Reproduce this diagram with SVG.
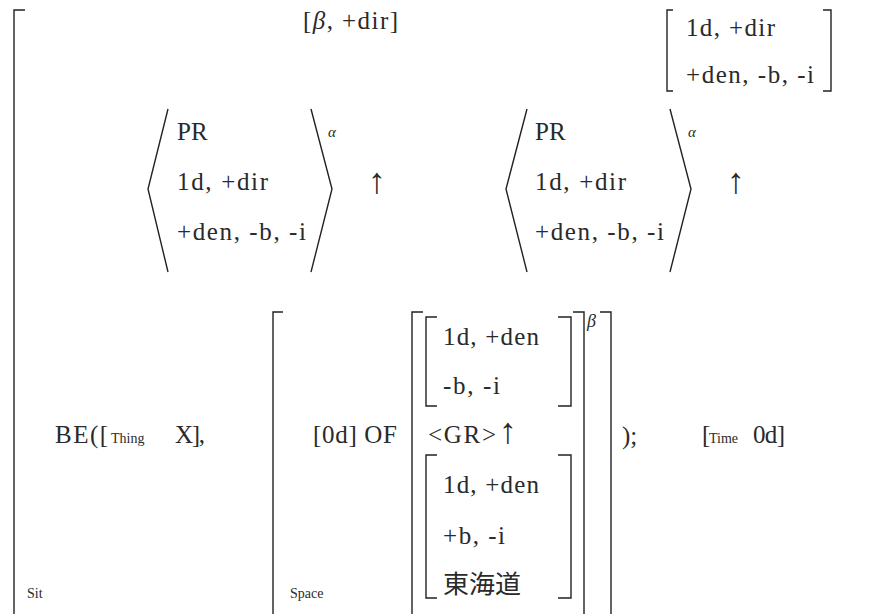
<svg xmlns="http://www.w3.org/2000/svg" width="873" height="614" viewBox="0 0 873 614">
  <style>
    .t { font-family: "Liberation Serif", "Noto Sans CJK JP", serif; font-size: 25px; fill: #2a2a2a; }
    .s { font-family: "Liberation Serif", serif; font-size: 14px; fill: #2a2a2a; }
    .g { font-family: "Liberation Serif", serif; font-style: italic; fill: #2a2a2a; }
    .k { font-family: "Noto Sans CJK JP", sans-serif; font-size: 25px; fill: #2a2a2a; }
    .up { font-family: "Liberation Serif", serif; font-size: 36px; fill: #2a2a2a; }
    .br { fill: none; stroke: #222; stroke-width: 1.4; }
  </style>
  <rect width="873" height="614" fill="#ffffff"/>

  <!-- bracket and angle-bracket strokes -->
  <g id="brackets" class="br">
    <!-- outer Sit bracket -->
    <path d="M25,10 H14 V614"/>
    <!-- top-right feature bracket -->
    <path d="M673,10 H667 V91 H673"/>
    <path d="M823,10 H831 V91 H823"/>
    <!-- first angle pair -->
    <path d="M168,109 L148,189 L168,272"/>
    <path d="M311,109 L332,189 L311,272"/>
    <!-- second angle pair -->
    <path d="M527,109 L506,189 L527,272"/>
    <path d="M670,109 L691,189 L670,272"/>
    <!-- Space bracket -->
    <path d="M283,312 H273 V614"/>
    <path d="M600,312 H611 V614"/>
    <!-- beta bracket -->
    <path d="M423,312 H412 V614"/>
    <path d="M573,312 H584 V614"/>
    <!-- inner upper bracket -->
    <path d="M437,317 H426 V406 H437"/>
    <path d="M558,317 H571 V406 H558"/>
    <!-- inner lower bracket -->
    <path d="M437,455 H426 V598 H437"/>
    <path d="M558,455 H571 V598 H558"/>
  </g>

  <g id="top-label">
    <text class="t" x="303" y="29" textLength="95" lengthAdjust="spacing">[<tspan class="g">β</tspan>, +dir]</text>
  </g>

  <g id="top-right-features">
    <text class="t" x="686" y="36" textLength="89" lengthAdjust="spacing">1d, +dir</text>
    <text class="t" x="686" y="83" textLength="128" lengthAdjust="spacing">+den, -b, -i</text>
  </g>

  <g id="angle-1">
    <text class="t" x="177" y="140" font-size="27">PR</text>
    <text class="t" x="177" y="190" textLength="91" lengthAdjust="spacing">1d, +dir</text>
    <text class="t" x="177" y="240" textLength="129" lengthAdjust="spacing">+den, -b, -i</text>
    <text class="g" x="328" y="137" font-size="15">α</text>
    <text class="up" x="368" y="193">↑</text>
  </g>

  <g id="angle-2">
    <text class="t" x="535" y="140" font-size="27">PR</text>
    <text class="t" x="535" y="190" textLength="91" lengthAdjust="spacing">1d, +dir</text>
    <text class="t" x="535" y="240" textLength="129" lengthAdjust="spacing">+den, -b, -i</text>
    <text class="g" x="688" y="137" font-size="15">α</text>
    <text class="up" x="727" y="193">↑</text>
  </g>

  <g id="situation">
    <text class="t" x="55" y="443" textLength="53" lengthAdjust="spacing">BE([</text>
    <text class="s" x="111" y="443">Thing</text>
    <text class="t" x="175" y="443" textLength="30" lengthAdjust="spacing">X],</text>
    <text class="s" x="27" y="598" font-size="12">Sit</text>
  </g>

  <g id="space">
    <text class="t" x="313" y="443" textLength="84" lengthAdjust="spacing">[0d] OF</text>
    <text class="s" x="290" y="598" font-size="11">Space</text>
    <text class="g" x="587" y="327" font-size="18">β</text>
  </g>

  <g id="inner-upper">
    <text class="t" x="443" y="345" textLength="96" lengthAdjust="spacing">1d, +den</text>
    <text class="t" x="443" y="394" textLength="57" lengthAdjust="spacing">-b, -i</text>
  </g>

  <g id="group-GR">
    <text class="t" x="428" y="443" textLength="68" lengthAdjust="spacing">&lt;GR&gt;</text>
    <text class="up" x="499" y="443">↑</text>
  </g>

  <g id="inner-lower">
    <text class="t" x="443" y="493" textLength="96" lengthAdjust="spacing">1d, +den</text>
    <text class="t" x="443" y="544" textLength="62" lengthAdjust="spacing">+b, -i</text>
    <text class="k" x="443" y="593" textLength="78" lengthAdjust="spacingAndGlyphs">東海道</text>
  </g>

  <g id="closing">
    <text class="t" x="622" y="444">);</text>
  </g>

  <g id="time">
    <text class="t" x="702" y="443">[</text>
    <text class="s" x="709" y="443">Time</text>
    <text class="t" x="753" y="443" textLength="32" lengthAdjust="spacing">0d]</text>
  </g>
</svg>
